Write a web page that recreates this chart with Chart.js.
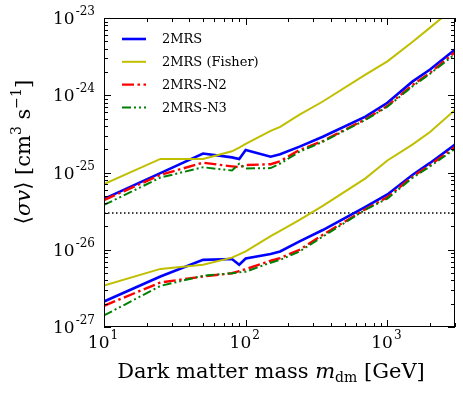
<!DOCTYPE html>
<html>
<head>
<meta charset="utf-8">
<script src="https://cdn.jsdelivr.net/npm/chart.js@4.4.0/dist/chart.umd.min.js"></script>
<style>
    html, body { margin: 0; padding: 0; background: #fff; }
</style>
</head>
<body>
<canvas id="myChart" width="463" height="396"></canvas>
<script>
// masses in GeV, cross sections in cm^3 s^-1
const masses = [10, 25, 50, 80, 90, 100, 150, 175, 240, 350, 700, 1000, 1500, 2000, 3000];

const mrsUpper    = [4.55e-26, 9.8e-26, 1.76e-25, 1.57e-25, 1.49e-25, 1.96e-25, 1.6e-25, 1.72e-25, 2.16e-25, 2.9e-25, 5.3e-25, 8.0e-25, 1.5e-24, 2.15e-24, 3.9e-24];
const fisherUpper = [7.06e-26, 1.5e-25, 1.5e-25, 1.88e-25, 2.1e-25, 2.35e-25, 3.45e-25, 3.9e-25, 5.6e-25, 8.3e-25, 1.85e-24, 2.75e-24, 4.9e-24, 7.5e-24, 1.39e-23];
const n2Upper     = [4.4e-26, 9.3e-26, 1.34e-25, 1.2e-25, 1.17e-25, 1.25e-25, 1.28e-25, 1.4e-25, 1.96e-25, 2.55e-25, 4.9e-25, 7.3e-25, 1.35e-24, 1.95e-24, 3.6e-24];
const n3Upper     = [3.8e-26, 8.6e-26, 1.17e-25, 1.06e-25, 1.3e-25, 1.13e-25, 1.14e-25, 1.3e-25, 1.86e-25, 2.5e-25, 4.8e-25, 7.1e-25, 1.3e-24, 1.9e-24, 3.4e-24];

const mrsLower    = [2.14e-27, 4.5e-27, 7.4e-27, 7.6e-27, 6.4e-27, 7.7e-27, 8.8e-27, 9.5e-27, 1.28e-26, 1.8e-26, 3.6e-26, 5.2e-26, 9.3e-26, 1.33e-25, 2.3e-25];
const fisherLower = [3.44e-27, 5.65e-27, 6.4e-27, 7.9e-27, 8.7e-27, 9.5e-27, 1.5e-26, 1.75e-26, 2.44e-26, 3.7e-26, 8.4e-26, 1.43e-25, 2.3e-25, 3.35e-25, 6.45e-25];
const n2Lower     = [1.88e-27, 3.77e-27, 4.5e-27, 4.97e-27, 5.3e-27, 5.6e-27, 7.2e-27, 7.8e-27, 1.0e-26, 1.56e-26, 3.35e-26, 4.8e-26, 8.8e-26, 1.25e-25, 2.14e-25];
const n3Lower     = [1.41e-27, 3.4e-27, 4.6e-27, 4.97e-27, 5.1e-27, 5.2e-27, 6.8e-27, 7.4e-27, 9.5e-27, 1.48e-26, 3.3e-26, 4.6e-26, 8.5e-26, 1.2e-25, 2.02e-25];

// thermal cross section line
const thermalMasses = [10, 3000];
const thermalValue = 3e-26;

const xTicks = [10, 100, 1000];
const yTicks = [1e-27, 1e-26, 1e-25, 1e-24, 1e-23];
const xRange = [10, 3000];
const yRange = [1e-27, 1e-23];

const serif = "'DejaVu Serif', 'Liberation Serif', serif";

function pts(vals) {
    return masses.map((m, i) => ({ x: m, y: vals[i] }));
}

const styles = {
    mrs:    { borderColor: '#0000ff', borderWidth: 2.6, borderDash: [], order: 4 },
    fisher: { borderColor: '#bfbf00', borderWidth: 2, borderDash: [], order: 3 },
    n2:     { borderColor: '#ff0000', borderWidth: 2.4, borderDash: [12, 3.5, 2.5, 3.5], order: 2 },
    n3:     { borderColor: '#008000', borderWidth: 2, borderDash: [9, 3, 2, 3, 2, 3], order: 1 }
};

function line(label, vals, style, inLegend) {
    return Object.assign({
        label: label,
        data: pts(vals),
        pointRadius: 0,
        tension: 0,
        fill: false,
        inLegend: inLegend
    }, style);
}

const datasets = [
    line('2MRS', mrsUpper, styles.mrs, true),
    line('2MRS (Fisher)', fisherUpper, styles.fisher, true),
    line('2MRS-N2', n2Upper, styles.n2, true),
    line('2MRS-N3', n3Upper, styles.n3, true),
    line('2MRS', mrsLower, styles.mrs, false),
    line('2MRS (Fisher)', fisherLower, styles.fisher, false),
    line('2MRS-N2', n2Lower, styles.n2, false),
    line('2MRS-N3', n3Lower, styles.n3, false),
    {
        label: 'thermal',
        data: thermalMasses.map(m => ({ x: m, y: thermalValue })),
        borderColor: '#000',
        borderWidth: 1.5,
        borderDash: [1.5, 2.5],
        pointRadius: 0,
        order: 5,
        inLegend: false
    }
];

function drawPow(ctx, exp, x, y, align) {
    // "10" with exponent, x = anchor, y = baseline of "10"
    ctx.font = '17px ' + serif;
    const wb = ctx.measureText('10').width;
    ctx.font = '12px ' + serif;
    const we = ctx.measureText(exp).width;
    let x0 = x;
    if (align === 'center') x0 = x - (wb + we + 1) / 2;
    if (align === 'right') x0 = x - (wb + we + 1);
    ctx.textAlign = 'left';
    ctx.textBaseline = 'alphabetic';
    ctx.font = '17px ' + serif;
    ctx.fillText('10', x0, y);
    ctx.font = '12px ' + serif;
    ctx.fillText(exp, x0 + wb + 1, y - 9);
}

function drawParts(ctx, parts, x, y) {
    let cx = x;
    parts.forEach(p => {
        ctx.font = p.f;
        ctx.fillText(p.t, cx, y + (p.dy || 0));
        cx += ctx.measureText(p.t).width;
    });
}

function partsWidth(ctx, parts) {
    let w = 0;
    parts.forEach(p => { ctx.font = p.f; w += ctx.measureText(p.t).width; });
    return w;
}

const decorations = {
    id: 'decorations',
    afterDraw(chart) {
        const { ctx, chartArea: a, scales: { x, y } } = chart;
        ctx.save();
        ctx.fillStyle = '#000';
        ctx.strokeStyle = '#000';
        ctx.lineWidth = 1;
        ctx.setLineDash([]);

        // frame
        ctx.strokeRect(a.left + 0.5, a.top + 0.5, a.right - a.left - 1, a.bottom - a.top - 1);

        // ticks, pointing inwards on all sides
        ctx.beginPath();
        for (let d = 1; d <= 3; d++) {
            for (let k = 1; k <= 9; k++) {
                const v = k * Math.pow(10, d);
                if (v < xRange[0] || v > xRange[1]) continue;
                const px = Math.round(x.getPixelForValue(v)) + 0.5;
                const len = k === 1 ? 7 : 4;
                ctx.moveTo(px, a.bottom); ctx.lineTo(px, a.bottom - len);
                ctx.moveTo(px, a.top); ctx.lineTo(px, a.top + len);
            }
        }
        for (let d = -27; d <= -23; d++) {
            for (let k = 1; k <= 9; k++) {
                const v = k * Math.pow(10, d);
                if (v < yRange[0] * 0.999 || v > yRange[1] * 1.001) continue;
                const py = Math.round(y.getPixelForValue(v)) + 0.5;
                const len = k === 1 ? 7 : 4;
                ctx.moveTo(a.left, py); ctx.lineTo(a.left + len, py);
                ctx.moveTo(a.right, py); ctx.lineTo(a.right - len, py);
            }
        }
        ctx.stroke();

        // tick labels
        xTicks.forEach(v => {
            const exp = String(Math.round(Math.log10(v)));
            drawPow(ctx, exp, x.getPixelForValue(v) - 1, a.bottom + 21, 'center');
        });
        yTicks.forEach(v => {
            const exp = '-' + String(-Math.round(Math.log10(v)));
            drawPow(ctx, exp, a.left - 9, y.getPixelForValue(v) + 6, 'right');
        });

        // x title
        const big = '21px ' + serif;
        const xParts = [
            { t: 'Dark matter mass ', f: big },
            { t: 'm', f: 'italic ' + big },
            { t: 'dm', f: '14px ' + serif, dy: 4 },
            { t: ' [GeV]', f: big }
        ];
        ctx.textAlign = 'left';
        ctx.textBaseline = 'alphabetic';
        const xw = partsWidth(ctx, xParts);
        drawParts(ctx, xParts, 271 - xw / 2, 378);

        // y title
        const yParts = [
            { t: '\u27E8', f: big },
            { t: '\u03C3v', f: 'italic ' + big },
            { t: '\u27E9', f: big },
            { t: ' [cm', f: big },
            { t: '3', f: '14px ' + serif, dy: -9 },
            { t: ' s', f: big },
            { t: '\u22121', f: '14px ' + serif, dy: -9 },
            { t: ']', f: big }
        ];
        const yw = partsWidth(ctx, yParts);
        ctx.save();
        ctx.translate(30, 152);
        ctx.rotate(-Math.PI / 2);
        drawParts(ctx, yParts, -yw / 2, 0);
        ctx.restore();

        // legend
        const entries = chart.data.datasets.filter(ds => ds.inLegend);
        entries.forEach((ds, i) => {
            const ly = 39 + i * 22.8;
            ctx.save();
            ctx.strokeStyle = ds.borderColor;
            ctx.lineWidth = ds.borderWidth;
            ctx.setLineDash(ds.borderDash || []);
            ctx.beginPath();
            ctx.moveTo(122, ly);
            ctx.lineTo(146, ly);
            ctx.stroke();
            ctx.restore();
            ctx.font = '13px ' + serif;
            ctx.textAlign = 'left';
            ctx.textBaseline = 'middle';
            ctx.fillStyle = '#000';
            ctx.fillText(ds.label, 162, ly + 1);
        });

        ctx.restore();
    }
};

const ctx = document.getElementById('myChart').getContext('2d');
const myChart = new Chart(ctx, {
    type: 'line',
    data: { datasets: datasets },
    options: {
        responsive: false,
        animation: false,
        devicePixelRatio: 1,
        layout: { padding: { left: 104, right: 8, top: 18, bottom: 69 } },
        plugins: {
            legend: { display: false },
            tooltip: { enabled: false }
        },
        scales: {
            x: { type: 'logarithmic', min: xRange[0], max: xRange[1], display: false },
            y: { type: 'logarithmic', min: yRange[0], max: yRange[1], display: false }
        }
    },
    plugins: [decorations]
});
</script>
</body>
</html>
